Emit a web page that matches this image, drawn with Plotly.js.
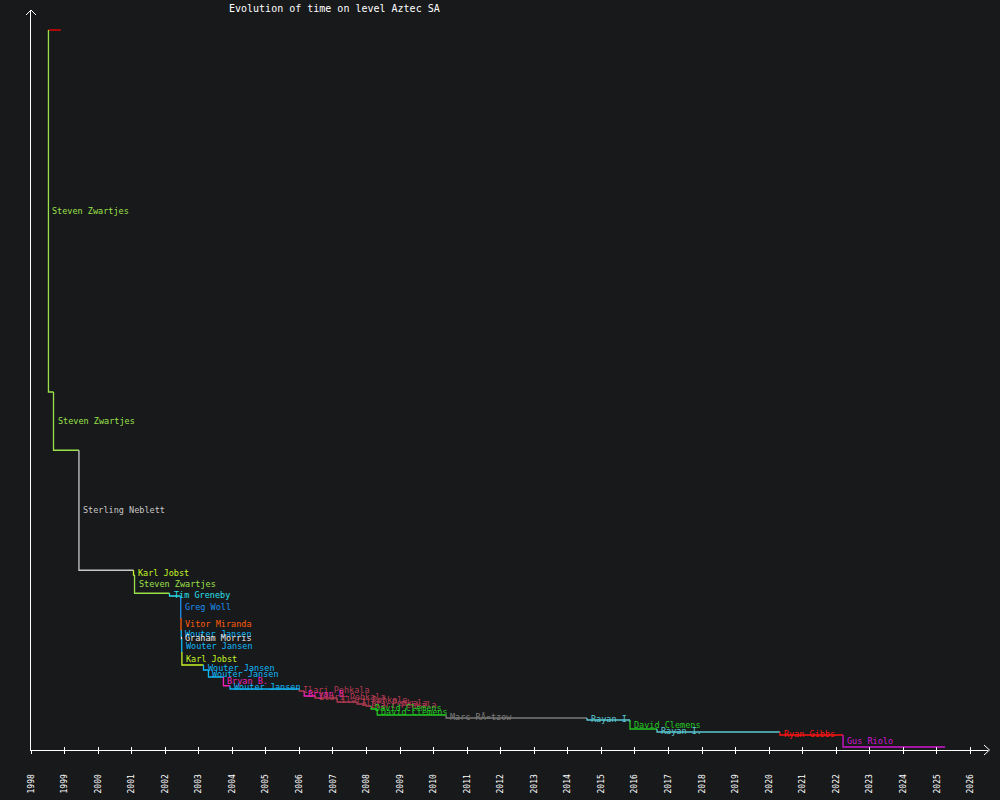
<!DOCTYPE html>
<html>
<head>
<meta charset="utf-8">
<script src="https://cdn.plot.ly/plotly-3.0.1.min.js"></script>
<style>
  html, body { margin: 0; padding: 0; background: #18191b; }
  #myDiv { width: 1000px; height: 800px; }
</style>
</head>
<body>
<div id="myDiv"></div>
<script>
// record progression, time in seconds
var holders = ['Steven Zwartjes', 'Steven Zwartjes', 'Sterling Neblett', 'Karl Jobst', 'Steven Zwartjes',
  'Tim Greneby', 'Greg Woll', 'Vitor Miranda', 'Wouter Jansen', 'Graham Morris', 'Wouter Jansen',
  'Karl Jobst', 'Wouter Jansen', 'Wouter Jansen', 'Bryan B.', 'Wouter Jansen', 'Ilari Pehkala',
  'Bryan B.', 'Ilari Pehkala', 'Ilari Pehkala', 'Ilari Pehkala', 'Ilari Pehkala', 'David Clemens',
  'David Clemens', 'Marc RÃ¤tzow', 'Rayan I.', 'David Clemens', 'Rayan I.', 'Ryan Gibbs', 'Gus Riolo'];
var dates = ['1998-07-10', '1998-09-03', '1999-06-07', '2001-01-21', '2001-02-01',
  '2002-02-17', '2002-06-19', '2002-06-22', '2002-06-25', '2002-06-27', '2002-06-30',
  '2002-07-02', '2003-02-22', '2003-04-17', '2003-09-27', '2003-12-08', '2005-12-30',
  '2006-02-22', '2006-06-21', '2007-02-16', '2007-09-21', '2007-12-28', '2008-02-21',
  '2008-04-27', '2010-05-17', '2014-07-29', '2015-11-09', '2016-08-29', '2020-04-28', '2022-03-16'];
var times = [232.0, 208.7, 160.7, 158.8, 151.5,
  150.4, 141.6, 136.8, 134.0, 133.2, 128.0,
  122.8, 120.8, 118.0, 114.5, 113.2, 112.4,
  110.4, 109.6, 108.0, 107.2, 106.4, 105.2,
  102.8, 101.6, 100.8, 97.2, 96.0, 94.8, 90.0];
var lastDate = '2025-03-31';
// first (unlabelled) entry at the top
var firstDates = ['1998-07-10', '1998-11-22'];
var firstTime = 376.8;

var colors = {
  'Steven Zwartjes': '#9be04a',
  'Sterling Neblett': '#c8c8c8',
  'Karl Jobst': '#c6f526',
  'Tim Greneby': '#28e0ea',
  'Greg Woll': '#1f8ef0',
  'Vitor Miranda': '#ff5a0a',
  'Wouter Jansen': '#10b8f8',
  'Graham Morris': '#e6e6e6',
  'Bryan B.': '#f020b8',
  'Ilari Pehkala': '#b23a52',
  'David Clemens': '#22c822',
  'Marc RÃ¤tzow': '#7a7a7a',
  'Rayan I.': '#5ac8d2',
  'Ryan Gibbs': '#ff1414',
  'Gus Riolo': '#d214d2'
};

var FONT = 'DejaVu Sans Mono, monospace';
var data = [];
var annotations = [];

data.push({
  x: firstDates,
  y: [firstTime, firstTime],
  mode: 'lines',
  line: {color: '#ff0000', width: 1.3},
  hoverinfo: 'skip'
});

for (var i = 0; i < holders.length; i++) {
  var prev = i === 0 ? firstTime : times[i - 1];
  var next = i < holders.length - 1 ? dates[i + 1] : lastDate;
  var c = colors[holders[i]];
  data.push({
    x: [dates[i], dates[i], next],
    y: [prev, times[i], times[i]],
    mode: 'lines',
    line: {color: c, width: 1.3},
    hoverinfo: 'skip'
  });
  annotations.push({
    x: dates[i],
    y: (prev + times[i]) / 2,
    xref: 'x', yref: 'y',
    text: holders[i],
    showarrow: false,
    xanchor: 'left',
    yanchor: 'middle',
    xshift: 2,
    font: {family: FONT, size: 8.5, color: c}
  });
}

annotations.push({
  text: 'Evolution of time on level Aztec SA',
  xref: 'paper', yref: 'paper',
  x: (334.5 - 31) / 957, y: (750 - 9) / 740,
  xanchor: 'center', yanchor: 'middle',
  showarrow: false,
  font: {family: FONT, size: 10, color: '#ffffff'}
});

// arrow heads on the axes (paper coords: x = (px-31)/957, y = (750-py)/740)
function px(v) { return (v - 31) / 957; }
function py(v) { return (750 - v) / 740; }
var shapes = [
  {type: 'path', xref: 'paper', yref: 'paper',
   path: 'M ' + px(984) + ' ' + py(745) + ' L ' + px(989.5) + ' ' + py(750) + ' L ' + px(984) + ' ' + py(755),
   line: {color: '#ffffff', width: 1}},
  {type: 'path', xref: 'paper', yref: 'paper',
   path: 'M ' + px(26) + ' ' + py(15) + ' L ' + px(31) + ' ' + py(10) + ' L ' + px(36) + ' ' + py(15),
   line: {color: '#ffffff', width: 1}}
];

var layout = {
  width: 1000,
  height: 800,
  paper_bgcolor: '#18191b',
  plot_bgcolor: '#18191b',
  showlegend: false,
  margin: {l: 31, r: 12, t: 10, b: 50},
  xaxis: {
    type: 'date',
    range: ['1998-01-01', '2026-07-11'],
    tick0: '1998-01-01',
    dtick: 'M12',
    tickformat: '%Y',
    tickangle: -90,
    ticks: 'outside',
    ticklen: 3,
    tickcolor: '#ffffff',
    ticklabelstandoff: 17,
    tickfont: {family: FONT, size: 8, color: '#ffffff'},
    showline: true,
    linecolor: '#ffffff',
    linewidth: 1,
    showgrid: false,
    zeroline: false
  },
  xaxis2: {
    overlaying: 'x',
    matches: 'x',
    anchor: 'y',
    side: 'bottom',
    type: 'date',
    tick0: '1998-01-01',
    dtick: 'M12',
    ticks: 'inside',
    ticklen: 3,
    tickcolor: '#ffffff',
    showticklabels: false,
    showgrid: false,
    zeroline: false
  },
  yaxis: {
    range: [88.8, 384.8],
    showline: true,
    linecolor: '#ffffff',
    linewidth: 1,
    showticklabels: false,
    ticks: '',
    showgrid: false,
    zeroline: false
  },
  shapes: shapes,
  annotations: annotations
};

// invisible point so the second axis (inner ticks) is drawn
data.push({x: [dates[0]], y: [times[0]], xaxis: 'x2', mode: 'markers', marker: {opacity: 0}, hoverinfo: 'skip'});

Plotly.newPlot('myDiv', data, layout, {displayModeBar: false});
</script>
</body>
</html>
